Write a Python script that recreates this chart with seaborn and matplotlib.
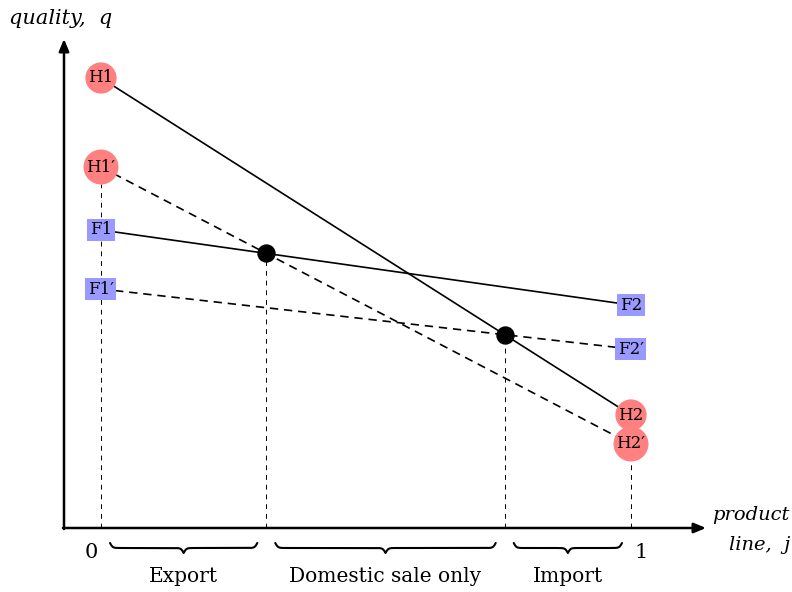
import numpy as np
import pandas as pd
import matplotlib.pyplot as plt
import seaborn as sns

# ----------------------- Data -----------------------
# product line j runs from 0 to 1, quality q in arbitrary units
home_names = ["H1", "H2"]
home_q = [4.50, 1.13]
home_new_names = ["H1\u2032", "H2\u2032"]
home_new_q = [3.61, 0.84]
foreign_names = ["F1", "F2"]
foreign_q = [2.98, 2.23]
foreign_new_names = ["F1\u2032", "F2\u2032"]
foreign_new_q = [2.39, 1.79]
j_ends = [0.0, 1.0]
regions = ["Export", "Domestic sale only", "Import"]

# ----------------------- Layout (pixels) -----------------------
W, H = 792, 592
PX_J0, PX_J1 = 101, 631      # pixel x of j=0 and j=1
PX_Q0, PX_PER_Q = 528, 100   # pixel y of q=0, pixels per q unit
SX = PX_J1 - PX_J0

def px(x, y):
    """Pixel position -> data coordinates."""
    return (x - PX_J0) / SX, (PX_Q0 - y) / PX_PER_Q

def crossing(a, b):
    """Intersection of two straight lines given by their end values at j=0,1."""
    j = (a[0] - b[0]) / ((a[0] - a[1]) - (b[0] - b[1]))
    return j, a[0] + (a[1] - a[0]) * j

def draw_brace(ax, j0, j1, top, height, beta):
    x = np.linspace(j0, j1, 401)
    half = x[:201]
    yh = 1 / (1 + np.exp(-beta * (half - half[0]))) + 1 / (1 + np.exp(-beta * (half - half[-1])))
    yy = np.concatenate((yh, yh[-2::-1]))
    ax.plot(x, top - (yy - 0.5) * height, color="black", lw=1.5, solid_capstyle="round")

sns.set_theme(style="white")
plt.rcParams["font.family"] = ["DejaVu Serif"]
plt.rcParams["text.color"] = "black"

fig = plt.figure(figsize=(W / 100, H / 100), dpi=100)
ax = fig.add_axes([0, 0, 1, 1])
ax.set_xlim(px(0, 0)[0], px(W, 0)[0])
ax.set_ylim(px(0, H)[1], px(0, 0)[1])
ax.axis("off")

# axes arrows
x_start, _ = px(64, 0)
x_end, _ = px(706, 0)
_, y_end = px(0, 39)
arrow = dict(arrowstyle="-|>,head_length=0.6,head_width=0.25", color="black", lw=1.8,
             shrinkA=0, shrinkB=0)
ax.annotate("", xy=(x_end, 0), xytext=(x_start - 0.002, 0), arrowprops=arrow)
ax.annotate("", xy=(x_start, y_end), xytext=(x_start, -0.01), arrowprops=arrow)

# lines
lines = pd.DataFrame({
    "j": j_ends * 4,
    "q": home_q + home_new_q + foreign_q + foreign_new_q,
    "line": ["H"] * 2 + ["H'"] * 2 + ["F"] * 2 + ["F'"] * 2,
})
dash = (0, (5, 3.5))
for name, ls in [("H", "-"), ("H'", dash), ("F", "-"), ("F'", dash)]:
    sub = lines[lines["line"] == name]
    sns.lineplot(data=sub, x="j", y="q", ax=ax, color="black", lw=1.2,
                 linestyle=ls, estimator=None, zorder=2)

# equilibrium crossings
c1 = crossing(home_new_q, foreign_q)
c2 = crossing(home_q, foreign_new_q)
cross = pd.DataFrame({"j": [c1[0], c2[0]], "q": [c1[1], c2[1]]})
sns.scatterplot(data=cross, x="j", y="q", ax=ax, color="black", s=150,
                edgecolor="black", zorder=4)

# vertical guides
vdash = (0, (5, 5))
guides = [(0.0, home_new_q[0] - 0.17), (c1[0], c1[1]), (c2[0], c2[1]),
          (1.0, home_new_q[1] - 0.17)]
for gj, gq in guides:
    ax.plot([gj, gj], [0, gq], color="black", lw=0.7, linestyle=vdash, zorder=1)

# node labels
for names, vals in [(home_names, home_q), (home_new_names, home_new_q)]:
    for nm, jv, qv in zip(names, j_ends, vals):
        ax.text(jv, qv, nm, fontsize=12, ha="center", va="center", zorder=5,
                bbox=dict(boxstyle="circle,pad=0.18", fc="#ff8080", ec="none"))
for names, vals in [(foreign_names, foreign_q), (foreign_new_names, foreign_new_q)]:
    for nm, jv, qv in zip(names, j_ends, vals):
        ax.text(jv, qv, nm, fontsize=12, ha="center", va="center", zorder=5,
                bbox=dict(boxstyle="square,pad=0.15", fc="#9999ff", ec="none"))

# tick labels
_, tick_y = px(0, 553)
ax.text(px(91, 0)[0], tick_y, "0", fontsize=15, ha="center", va="center")
ax.text(px(641, 0)[0], tick_y, "1", fontsize=15, ha="center", va="center")

# braces and region labels
gap = 9 / SX
bounds = [0.0, c1[0], c2[0], 1.0]
_, brace_top = px(0, 543)
_, lab_y = px(0, 576)
for k, name in enumerate(regions):
    a, b = bounds[k] + gap, bounds[k + 1] - gap
    draw_brace(ax, a, b, brace_top, 0.1, 0.75 * SX)
    ax.text((a + b) / 2, lab_y, name, fontsize=14.5, ha="center", va="center")

# axis titles
qx, qy = px(9, 18)
ax.text(qx, qy, "quality,  q", fontsize=15, style="italic", ha="left", va="center")
px1, py1 = px(790, 515)
ax.text(px1, py1, "product", fontsize=14, style="italic", ha="right", va="center")
px2, py2 = px(790, 545)
ax.text(px2, py2, "line,  j", fontsize=14, style="italic", ha="right", va="center")

fig.savefig("out.png", dpi=100)
